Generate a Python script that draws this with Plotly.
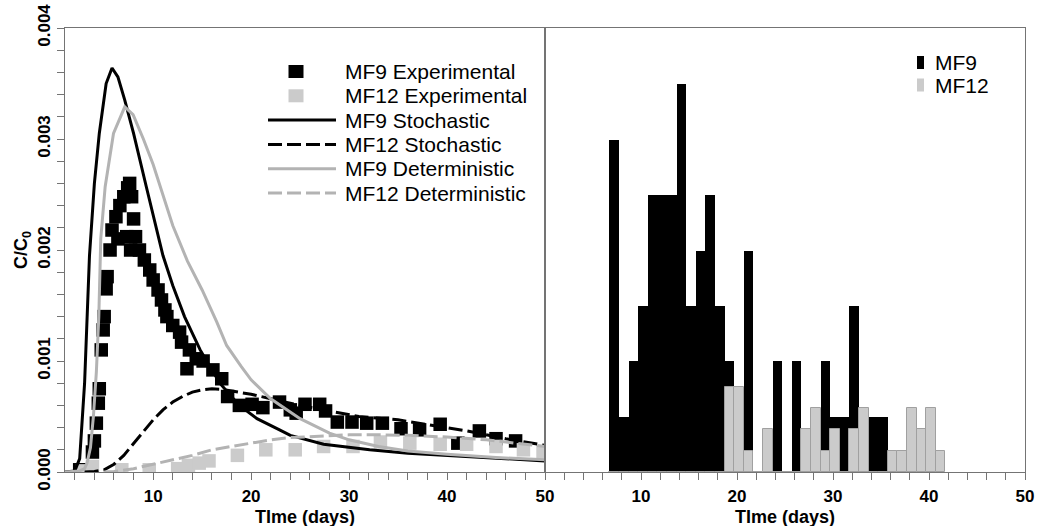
import plotly.graph_objects as go

# ---------------- breakthrough curves (left panel) ----------------
mf9_exp_t = [2.5, 3.8, 4.0, 4.2, 4.4, 4.5, 4.7, 4.9, 5.0, 5.2, 5.3, 5.6, 5.8, 6.2, 6.6,
             7.0, 7.4, 7.6, 7.8, 6.4, 7.3, 7.7, 8.0, 8.2, 8.6, 9.1, 9.65, 10.0, 10.5,
             10.85, 11.2, 11.4, 12.0, 12.7, 12.9, 13.45, 13.7, 14.4, 15.1, 16.1, 17.0,
             17.6, 18.8, 20.1, 21.2, 22.9, 24.0, 24.6, 25.5, 27.0, 27.6, 28.8, 30.3,
             31.8, 33.4, 35.3, 37.2, 39.3, 41.1, 43.3, 45.0, 47.0]
mf9_exp_c = [0.00002, 0.00018, 0.00028, 0.00044, 0.00062, 0.00075, 0.00110, 0.00128,
             0.00140, 0.00165, 0.00176, 0.00200, 0.00218, 0.00230, 0.00240, 0.00248,
             0.00256, 0.00260, 0.00248, 0.00210, 0.00212, 0.00200, 0.00228, 0.00212,
             0.00200, 0.00191, 0.00182, 0.00173, 0.00164, 0.00155, 0.00146, 0.00140,
             0.00132, 0.00126, 0.00117, 0.00093, 0.00110, 0.00102, 0.00100, 0.00092,
             0.00084, 0.00068, 0.00060, 0.00061, 0.00058, 0.00063, 0.00056, 0.00053,
             0.00061, 0.00061, 0.00055, 0.00045, 0.00045, 0.00044, 0.00044, 0.00039,
             0.00038, 0.00043, 0.00026, 0.00037, 0.00030, 0.00028]

mf12_exp_t = [2.8, 3.8, 6.8, 9.6, 12.5, 13.6, 14.7, 15.7, 18.6, 21.5, 24.5, 27.4, 30.4,
              33.2, 36.2, 39.3, 42.0, 45.0, 47.8, 49.8]
mf12_exp_c = [0.00001, 0.00005, 0.00002, 0.00002, 0.00003, 0.00006, 0.00008, 0.00010,
              0.00015, 0.00020, 0.00020, 0.00023, 0.00023, 0.00027, 0.00026, 0.00025,
              0.00025, 0.00023, 0.00020, 0.00018]

mf9_sto_t = [1.0, 2.0, 2.5, 3.0, 3.5, 4.0, 4.5, 5.2, 5.8, 6.4, 7.1, 8.0, 9.3, 11.0, 12.0,
             13.2, 14.8, 16.8, 18.8, 20.6, 22.9, 24.0, 27.4, 30.0, 32.1, 36.0, 40.0, 45.0, 50.0]
mf9_sto_c = [0.0, 0.00001, 0.00012, 0.00080, 0.00195, 0.00260, 0.00305, 0.00350, 0.00364,
             0.00356, 0.00335, 0.00305, 0.00257, 0.00195, 0.00168, 0.00140, 0.00110,
             0.00080, 0.00060, 0.00048, 0.00038, 0.00033, 0.00025, 0.00022, 0.00020,
             0.00017, 0.00015, 0.00012, 0.00010]

mf12_sto_t = [3.0, 4.0, 5.0, 6.0, 7.0, 8.0, 9.0, 10.0, 11.0, 12.0, 13.0, 14.0, 15.0, 16.0,
              17.0, 18.0, 20.0, 22.0, 25.0, 28.0, 31.0, 35.0, 38.0, 42.0, 46.0, 50.0]
mf12_sto_c = [0.0, 0.000005, 0.00002, 0.00007, 0.00015, 0.00026, 0.00037, 0.00047,
              0.00056, 0.00063, 0.00068, 0.00072, 0.00074, 0.00075, 0.000745, 0.00073,
              0.00070, 0.00066, 0.00060, 0.00055, 0.00050, 0.00047, 0.00043, 0.00037,
              0.00030, 0.00024]

mf9_det_t = [1.0, 2.5, 3.0, 3.25, 3.6, 3.9, 4.2, 4.45, 4.65, 5.1, 5.95, 7.1, 7.95, 9.0,
             10.0, 11.0, 12.0, 13.5, 15.0, 16.5, 17.5, 19.0, 20.0, 22.0, 25.0, 28.0, 30.0,
             33.0, 36.0, 40.0, 45.0, 50.0]
mf9_det_c = [0.0, 0.00001, 0.00003, 0.00008, 0.00022, 0.00050, 0.00090, 0.00140, 0.00210,
             0.00257, 0.00305, 0.00329, 0.00322, 0.00300, 0.00277, 0.00250, 0.00222,
             0.00190, 0.00164, 0.00135, 0.00114, 0.00095, 0.00083, 0.00066, 0.00048,
             0.00035, 0.00029, 0.00023, 0.00019, 0.00016, 0.00013, 0.00011]

mf12_det_t = [5.0, 6.0, 8.0, 10.0, 12.0, 14.0, 16.0, 18.0, 20.0, 22.0, 24.0, 26.0, 28.0,
              30.0, 33.0, 36.0, 40.0, 44.0, 47.0, 50.0]
mf12_det_c = [0.0, 0.000005, 0.00003, 0.00007, 0.00011, 0.00015, 0.00020, 0.00023,
              0.00026, 0.00029, 0.00031, 0.00032, 0.00033, 0.000335, 0.000335, 0.00033,
              0.000315, 0.00029, 0.00026, 0.00023]

# ---------------- arrival-time histograms (right panel) ----------------
bin_left = [6.7, 7.7, 8.7, 9.7, 10.7, 11.7, 12.7, 13.7, 14.7, 15.7, 16.7, 17.7, 18.7,
            19.7, 20.7, 21.7, 22.7, 23.7, 24.7, 25.7, 26.7, 27.7, 28.7, 29.7, 30.7, 31.7,
            32.7, 33.7, 34.7, 35.7, 36.7, 37.7, 38.7, 39.7, 40.7]
mf9_freq = [15.6, 2.6, 5.2, 7.8, 13.0, 13.0, 13.0, 18.2, 7.8, 10.4, 13.0, 7.8, 5.2,
            2.6, 10.4, 0, 0, 5.2, 0, 5.2, 0, 0, 5.2, 2.6, 2.6, 7.8,
            2.6, 2.6, 2.6, 0, 0, 0, 0, 0, 0]
mf12_freq = [0, 0, 0, 0, 0, 0, 0, 0, 0, 0, 0, 0, 4,
             4, 1, 0, 2, 0, 0, 0, 2, 3, 1, 2, 0, 2,
             3, 0, 0, 1, 1, 3, 2, 3, 1]
bin_width = 1.0
bin_mid = [b + bin_width / 2 for b in bin_left]

x_title = "TIme (days)"
y_title = "C/C<sub>0</sub>"

BLACK = "#000000"
GREY_LINE = "#b3b3b3"
GREY_FILL = "#cbcbcb"
AXIS = "#747474"
FONT = "Liberation Sans, Arial, sans-serif"

fig = go.Figure()

fig.add_trace(go.Scatter(x=mf9_exp_t, y=mf9_exp_c, mode="markers", name="MF9 Experimental",
                         marker=dict(symbol="square", size=13.5, color=BLACK),
                         xaxis="x", yaxis="y"))
fig.add_trace(go.Scatter(x=mf12_exp_t, y=mf12_exp_c, mode="markers", name="MF12 Experimental",
                         marker=dict(symbol="square", size=13.5, color=GREY_FILL),
                         xaxis="x", yaxis="y"))
fig.add_trace(go.Scatter(x=mf9_sto_t, y=mf9_sto_c, mode="lines", name="MF9 Stochastic",
                         line=dict(color=BLACK, width=3), xaxis="x", yaxis="y"))
fig.add_trace(go.Scatter(x=mf12_sto_t, y=mf12_sto_c, mode="lines", name="MF12 Stochastic",
                         line=dict(color=BLACK, width=3, dash="14px,5px"), xaxis="x", yaxis="y"))
fig.add_trace(go.Scatter(x=mf9_det_t, y=mf9_det_c, mode="lines", name="MF9 Deterministic",
                         line=dict(color=GREY_LINE, width=3), xaxis="x", yaxis="y"))
fig.add_trace(go.Scatter(x=mf12_det_t, y=mf12_det_c, mode="lines", name="MF12 Deterministic",
                         line=dict(color=GREY_LINE, width=3, dash="14px,5px"), xaxis="x", yaxis="y"))

fig.add_trace(go.Bar(x=bin_mid, y=mf9_freq, width=bin_width, name="MF9",
                     marker=dict(color=BLACK, line=dict(width=0)),
                     xaxis="x2", yaxis="y2"))
fig.add_trace(go.Bar(x=bin_mid, y=mf12_freq, width=bin_width, name="MF12",
                     marker=dict(color=GREY_FILL, line=dict(color="#a0a0a0", width=1)),
                     xaxis="x2", yaxis="y2"))

# ---------------- layout ----------------
W, H = 1042, 526
M_L, M_R, M_T, M_B = 65, 17, 28, 54
PW, PH = W - M_L - M_R, H - M_T - M_B


def paper(px, py):
    return (px - M_L) / PW, (M_T + PH - py) / PH


tick_font = dict(family=FONT, size=17, color=BLACK, weight="bold")
title_font = dict(family=FONT, size=18, color=BLACK, weight="bold")

common_x = dict(ticks="outside", ticklen=7, tickcolor=AXIS, tickwidth=1,
                showline=True, linecolor=AXIS, linewidth=1, mirror=True,
                showgrid=False, zeroline=False, tickfont=tick_font, automargin=False,
                tickvals=[10, 20, 30, 40, 50], ticklabelstandoff=2,
                minor=dict(dtick=2, tick0=0, ticks="outside", ticklen=7,
                           tickcolor=AXIS, tickwidth=1, showgrid=False))

fig.update_layout(
    width=W, height=H,
    margin=dict(l=M_L, r=M_R, t=M_T, b=M_B),
    paper_bgcolor="white", plot_bgcolor="white",
    showlegend=False, barmode="overlay", bargap=0,
    xaxis=dict(domain=[0, 0.5], range=[1, 50], anchor="y", **common_x),
    xaxis2=dict(domain=[0.5, 1], range=[0, 50], anchor="y2", **common_x),
    yaxis=dict(domain=[0, 1], range=[0, 0.004], anchor="x", tickvals=[0, 0.001, 0.002, 0.003, 0.004],
               tickformat=".3f", tickangle=-90, ticks="outside", ticklen=7, tickcolor=AXIS,
               showline=True, linecolor=AXIS, linewidth=1, mirror=True, automargin=False,
               showgrid=False, zeroline=False, tickfont=tick_font,
               minor=dict(dtick=0.0002, tick0=0, ticks="outside", ticklen=7,
                          tickcolor=AXIS, tickwidth=1, showgrid=False),
               title=dict(text=y_title, font=title_font, standoff=2)),
    yaxis2=dict(domain=[0, 1], range=[0, 20.85], anchor="x2", showticklabels=False,
                ticks="", showline=True, linecolor=AXIS, linewidth=1, mirror=True,
                showgrid=False, zeroline=False),
    font=dict(family=FONT, color=BLACK),
)

shapes, annotations = [], []

# x-axis titles, one under each panel
for dom in (fig.layout.xaxis.domain, fig.layout.xaxis2.domain):
    annotations.append(dict(x=(dom[0] + dom[1]) / 2, y=paper(0, 516.5)[1], xref="paper", yref="paper",
                            text=x_title, showarrow=False, xanchor="center", yanchor="middle",
                            font=title_font))


# ---------------- legends, built from the trace styles ----------------
def add_legend(traces, text_px, row0_py, row_step, sym):
    for i, tr in enumerate(traces):
        cy = row0_py + i * row_step
        if tr.type == "bar":
            x0, y0 = paper(sym["cx"] - sym["w"] / 2, cy + sym["h"] / 2)
            x1, y1 = paper(sym["cx"] + sym["w"] / 2, cy - sym["h"] / 2)
            shapes.append(dict(type="rect", xref="paper", yref="paper", x0=x0, x1=x1, y0=y0, y1=y1,
                               fillcolor=tr.marker.color, line=dict(width=0)))
        elif tr.mode == "markers":
            x0, y0 = paper(sym["cx"] - 7.5, cy + 6.5)
            x1, y1 = paper(sym["cx"] + 7.5, cy - 6.5)
            shapes.append(dict(type="rect", xref="paper", yref="paper", x0=x0, x1=x1, y0=y0, y1=y1,
                               fillcolor=tr.marker.color, line=dict(width=0)))
        else:
            x0, yy = paper(sym["lx0"], cy)
            x1, _ = paper(sym["lx1"], cy)
            shapes.append(dict(type="line", xref="paper", yref="paper", x0=x0, x1=x1, y0=yy, y1=yy,
                               line=dict(color=tr.line.color, width=tr.line.width,
                                         dash=tr.line.dash or "solid")))
        tx, ty = paper(text_px, cy)
        annotations.append(dict(x=tx, y=ty, xref="paper", yref="paper", text=tr.name,
                                showarrow=False, xanchor="left", yanchor="middle",
                                font=dict(family=FONT, size=21, color=BLACK)))


add_legend(fig.data[:6], 343, 71.5, 24.3, dict(cx=296, lx0=268, lx1=336))
add_legend(fig.data[6:], 933, 62.5, 22.5, dict(cx=920.5, w=7, h=13))

fig.update_layout(shapes=shapes, annotations=annotations)

fig.write_html("out.html")
